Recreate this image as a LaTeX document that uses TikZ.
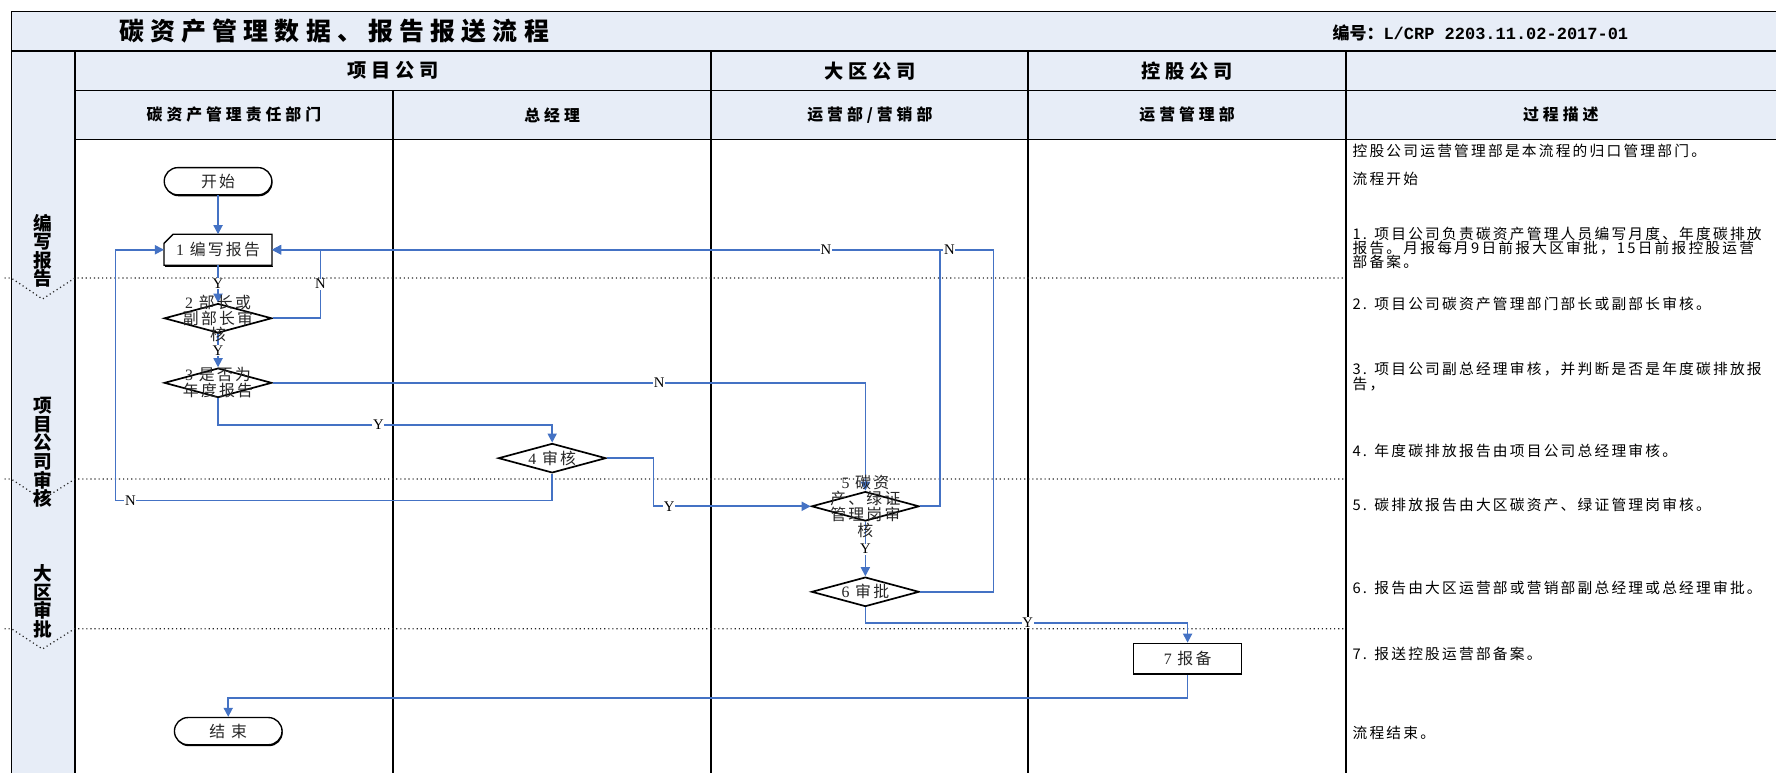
\documentclass[tikz,border=0pt]{standalone}
\usepackage{fontspec}
\setmainfont{Liberation Serif}
\newfontfamily\cjkd{Noto Sans CJK SC}[LetterSpace=14]
\newfontfamily\cjkt{Noto Sans CJK SC}[LetterSpace=15]
\newfontfamily\cjkh{Noto Sans CJK SC}[LetterSpace=25]
\newfontfamily\cjkb{Noto Sans CJK SC}
\newfontfamily\monob{Liberation Mono}
\usetikzlibrary{shapes.geometric,shapes.misc,arrows.meta,shadows,calc}
\definecolor{hdrbg}{RGB}{231,237,247}
\definecolor{flowc}{RGB}{68,114,196}
\tikzset{
  gridline/.style={line width=1.4pt, black},
  laneline/.style={line width=1.8pt, black},
  phasesep/.style={line width=1.1pt, dash pattern=on 1pt off 2.6pt, black!85},
  flow/.style={draw=flowc, line width=1.5pt, -{Triangle[length=8pt,width=8pt]}},
  yn/.style={fill=white, inner sep=0.6pt, font=\rmfamily\fontsize{13}{13}\selectfont},
  terminal/.style={rounded rectangle, draw, line width=1.2pt, fill=white, minimum width=95pt, minimum height=24pt, inner sep=0pt, font=\cjkd\fontsize{14}{14}\selectfont, text=black!85, drop shadow={shadow xshift=0.6pt, shadow yshift=-1.3pt, fill=black, opacity=1}},
  procbox/.style={rectangle, draw, line width=1.2pt, fill=white, minimum width=95pt, minimum height=27pt, inner sep=0pt, font=\cjkd\fontsize{14}{14}\selectfont, text=black!85, drop shadow={shadow xshift=0.6pt, shadow yshift=-1.3pt, fill=black, opacity=1}},
  cardnode/.style={rectangle, minimum width=95pt, minimum height=27pt, inner sep=0pt, font=\cjkd\fontsize{14}{14}\selectfont, text=black!85},
  decision/.style={diamond, draw, line width=1.5pt, fill=white, minimum width=95pt, minimum height=26pt, inner sep=0pt},
  dtext/.style={align=center, inner sep=0pt, font=\cjkd\fontsize{14}{12.6}\selectfont, text=black!85},
  desc/.style={anchor=west, align=left, inner sep=0pt, font=\cjkt\fontsize{13}{12.6}\selectfont},
  hdra/.style={font=\cjkh\bfseries\fontsize{17}{17}\selectfont},
  hdrb/.style={font=\cjkh\bfseries\fontsize{14}{14}\selectfont},
  phase/.style={align=center, inner sep=0pt, font=\cjkh\bfseries\fontsize{16.5}{16.4}\selectfont},
}
\begin{document}
\begin{tikzpicture}[x=1pt,y=-1pt]
\useasboundingbox (0,0) rectangle (1568,682.5);
\clip (0,0) rectangle (1568,682.5);
\fill[white] (0,0) rectangle (1568,682.5);
% backgrounds
\fill[hdrbg] (10,10) rectangle (1568,45);
\fill[hdrbg] (66,45) rectangle (1568,123);
\fill[hdrbg] (10,45) rectangle (66,682.5);
% grid
\draw[gridline] (1568,10) -- (10,10) -- (10,682.5);
\draw[gridline] (10,45) -- (1568,45);
\draw[gridline] (66,45) -- (66,682.5);
\draw[gridline] (66,80) -- (1568,80);
\draw[gridline] (66,123) -- (1568,123);
\draw[laneline] (347,80) -- (347,682.5);
\draw[laneline] (628,45) -- (628,682.5);
\draw[laneline] (908,45) -- (908,682.5);
\draw[laneline] (1188,45) -- (1188,682.5);
% phase separators
\draw[phasesep] (4,245.5) -- (10,245.5) -- (37.5,264) -- (66,245.5) -- (1188,245.5);
\draw[phasesep] (4,423) -- (10,423) -- (37.5,441) -- (66,423) -- (1188,423);
\draw[phasesep] (4,555) -- (10,555) -- (37.5,573) -- (66,555) -- (1188,555);
% titles
\node[font=\cjkh\bfseries\fontsize{22}{22}\selectfont] (title) at (295,27.5) {碳资产管理数据、报告报送流程};
\node[font=\fontsize{15}{15}\selectfont] (code) at (1307,29) {{\cjkb\bfseries 编号：}{\monob\bfseries L/CRP 2203.11.02-2017-01}};
\node[hdra] (hA) at (347,62.5) {项目公司};
\node[hdra] (hB) at (768,62.5) {大区公司};
\node[hdra] (hC) at (1048,62.5) {控股公司};
\node[hdrb] (hA1) at (206.5,101.5) {碳资产管理责任部门};
\node[hdrb] (hA2) at (487.5,101.5) {总经理};
\node[hdrb] (hB1) at (768,101.5) {运营部/营销部};
\node[hdrb] (hC1) at (1048,101.5) {运营管理部};
\node[hdrb] (hD1) at (1378,101.5) {过程描述};
% phases
\node[phase] (ph1) at (37.5,221.5) {编\\写\\报\\告};
\node[phase] (ph2) at (37.5,399.5) {项\\目\\公\\司\\审\\核};
\node[phase] (ph3) at (37.5,531) {大\\区\\审\\批};
% flow nodes
\node[terminal] (start) at (192.5,160) {开始};
\node[cardnode] (n1) at (192.5,220.5) {\textrm{1}\ 编写报告};
\draw[line width=1.2pt] ($(n1.north west)+(8,0)$) -- (n1.north east) -- (n1.south east) -- (n1.south west) -- ($(n1.north west)+(0,8)$) -- cycle;
\draw[line width=1.3pt] ($(n1.south west)+(0.6,1.1)$) -- ($(n1.south east)+(0.6,1.1)$);
\node[decision] (d2) at (192.5,281) {};
\node[decision] (d3) at (192.5,338) {};
\node[decision] (d4) at (487.5,404.5) {};
\node[decision] (d5) at (764,447) {};
\node[decision] (d6) at (764,522.5) {};
\node[procbox] (n7) at (1048.5,581.5) {\textrm{7}\ 报备};
\node[terminal] (end) at (201.5,645.5) {结\ 束};
% connectors
\coordinate (c2) at (283,220.5);
\coordinate (c3) at (487.5,375);
\coordinate (c4) at (102,442);
\coordinate (c5) at (577,447);
\coordinate (c6) at (830,220.5);
\coordinate (c7) at (877,220.5);
\coordinate (c8) at (1048.5,550);
\coordinate (c9) at (201.5,616);
\draw[flow] (start.south) -- (n1.north);
\draw[flow] (n1.south) -- node[yn]{Y} (d2.north);
\draw[flow] (d2.east) -| node[yn,pos=0.75]{N} (c2) -- (n1.east);
\draw[flow] (d2.south) -- node[yn]{Y} (d3.north);
\draw[flow] (d3.east) -| node[yn,pos=0.326]{N} (d5.north);
\draw[flow] (d3.south) |- node[yn,pos=0.74]{Y} (c3) -- (d4.north);
\draw[flow] (d4.south) |- node[yn,pos=0.983]{N} (c4) |- (n1.west);
\draw[flow] (d4.east) -| (c5) -- node[yn,pos=0.1]{Y} (d5.west);
\draw[flow] (d6.east) -| (c7) -- node[yn,pos=0.061]{N} (n1.east);
\draw[flow] (d5.east) -| (c6) -- node[yn,pos=0.171]{N} (n1.east);
\draw[flow] (d5.south) -- node[yn]{Y} (d6.north);
\draw[flow] (d6.south) |- node[yn,pos=0.752]{Y} (c8) -- (n7.north);
\draw[flow] (n7.south) |- (c9) -- (end.north);
% decision texts
\node[dtext] (t2) at (d2) {\textrm{2}\ 部长或\\副部长审\\核};
\node[dtext] (t3) at (d3) {\textrm{3}\ 是否为\\年度报告};
\node[dtext] (t4) at (d4) {\textrm{4}\ 审核};
\node[dtext] (t5) at (d5) {\textrm{5}\ 碳资\\产、绿证\\管理岗审\\核};
\node[dtext] (t6) at (d6) {\textrm{6}\ 审批};
% descriptions
\node[desc] (s0) at (1194,133) {控股公司运营管理部是本流程的归口管理部门。};
\node[desc] (s00) at (1194,158) {流程开始};
\node[desc] (s1) at (1194,219) {1. 项目公司负责碳资产管理人员编写月度、年度碳排放\\报告。月报每月9日前报大区审批，15日前报控股运营\\部备案。};
\node[desc] (s2) at (1194,268) {2. 项目公司碳资产管理部门部长或副部长审核。};
\node[desc] (s3) at (1194,332.5) {3. 项目公司副总经理审核，并判断是否是年度碳排放报\\告，};
\node[desc] (s4) at (1194,398) {4. 年度碳排放报告由项目公司总经理审核。};
\node[desc] (s5) at (1194,446) {5. 碳排放报告由大区碳资产、绿证管理岗审核。};
\node[desc] (s6) at (1194,519) {6. 报告由大区运营部或营销部副总经理或总经理审批。};
\node[desc] (s7) at (1194,577) {7. 报送控股运营部备案。};
\node[desc] (s8) at (1194,647) {流程结束。};
\end{tikzpicture}
\end{document}
